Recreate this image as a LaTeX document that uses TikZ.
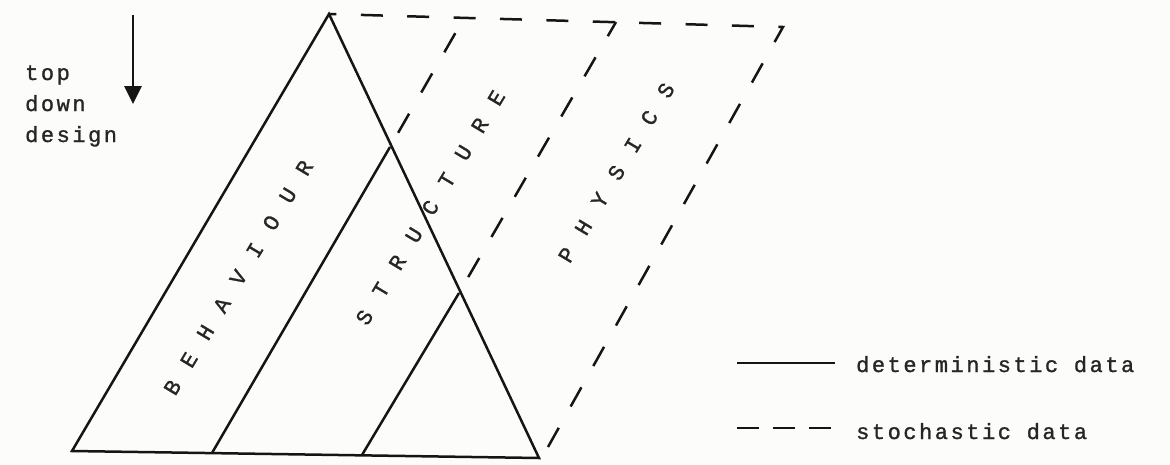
\documentclass[tikz,border=0pt]{standalone}
\usepackage{fontspec}
\usetikzlibrary{arrows.meta}
\newfontfamily\tw[LetterSpace=11.5,FakeBold=1.2]{Liberation Mono}
\newfontfamily\twr[FakeBold=1.2]{Liberation Mono}
\newcommand{\lgap}{\hspace{18.8pt}}
\definecolor{ink}{HTML}{151515}
\definecolor{txt}{HTML}{262626}
\definecolor{paper}{HTML}{FCFCFA}
\tikzset{
  solidline/.style={draw=ink, line width=2.5pt, line join=miter},
  dashline/.style={draw=ink, line width=2.5pt, dash pattern=on 22pt off 24.4pt},
  tword/.style={font=\tw\fontsize{22}{31}\selectfont, text=txt, inner sep=0pt},
  rotword/.style={font=\twr\fontsize{22}{26}\selectfont, text=txt, inner sep=0pt,
    rotate=59, anchor=center, text depth=0pt, text height=13pt},
}
\begin{document}
\begin{tikzpicture}[x=1pt,y=-1pt]
\fill[paper] (0,0) rectangle (1170,464);
\useasboundingbox (0,0) rectangle (1170,464);
% main points
\coordinate (A) at (329,14);
\coordinate (BL) at (72,451);
\coordinate (BR) at (539,458);
\coordinate (P1) at (212,453);
\coordinate (Q1) at (390,147);
\coordinate (P2) at (362,455);
\coordinate (Q2) at (459,293);
\coordinate (TR) at (783,27);
\coordinate (BRd) at (548,447);
\coordinate (R1) at (464,18);
\coordinate (R2) at (616,22);
% triangle and inner lines
\draw[solidline] (BL) -- (A) -- (BR) -- cycle;
\draw[solidline] (P1) -- (Q1);
\draw[solidline] (P2) -- (Q2);
% dashed parallelogram
\draw[dashline] (BRd) -- (TR) -- (A);
\draw[dashline, dash phase=30pt] (Q1) -- (R1);
\draw[dashline, dash phase=28pt] (Q2) -- (R2);
% labels
\node[rotword] (beh) at (239,278) {B\lgap E\lgap H\lgap A\lgap V\lgap I\lgap O\lgap U\lgap R};
\node[rotword] (str) at (431,208) {S\lgap T\lgap R\lgap U\lgap C\lgap T\lgap U\lgap R\lgap E};
\node[rotword] (phy) at (617,173) {P\lgap H\lgap Y\lgap S\lgap I\lgap C\lgap S};
% top down design
\coordinate (arA) at (133,15);
\coordinate (arB) at (133,104);
\draw[ink, line width=2.8pt, -{Triangle[length=18pt,width=17pt]}] (arA) -- (arB);
\node[tword, align=left, anchor=base west] (tdd) at (25,142) {top\\down\\design};
% legend
\coordinate (l1a) at (737,363);
\coordinate (l1b) at (835,363);
\coordinate (l2a) at (737,428);
\coordinate (l2b) at (833,428);
\draw[solidline] (l1a) -- (l1b);
\draw[ink, line width=2.5pt, dash pattern=on 22pt off 14pt] (l2a) -- (l2b);
\node[tword, anchor=base west] (det) at (856,372) {deterministic data};
\node[tword, anchor=base west] (sto) at (856,439) {stochastic data};
\end{tikzpicture}
\end{document}
